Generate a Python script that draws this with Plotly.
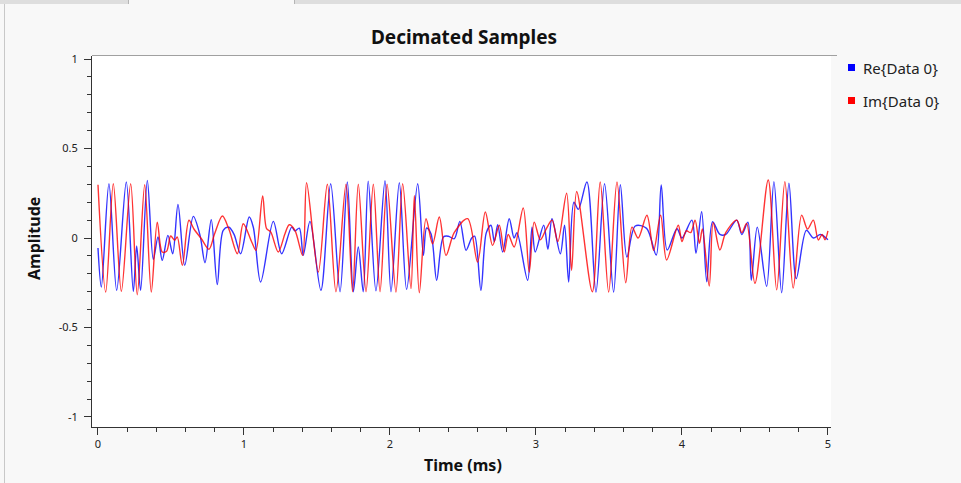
import plotly.graph_objects as go

# ---- data ----
re_t = [0, 0.023, 0.075, 0.128, 0.194, 0.242, 0.265, 0.292, 0.338, 0.379, 0.411, 0.440, 0.479, 0.512,
        0.548, 0.594, 0.653, 0.699, 0.733, 0.776, 0.817, 0.858, 0.897, 0.932, 0.977,
        1.036, 1.064, 1.114, 1.201, 1.258, 1.327, 1.349, 1.379, 1.406, 1.452, 1.527,
        1.594, 1.658, 1.708, 1.749, 1.783, 1.817, 1.851, 1.904, 1.966, 2.007, 2.064, 2.114, 2.19,
        2.229, 2.251, 2.281, 2.32, 2.366, 2.40, 2.441, 2.479, 2.521, 2.56, 2.58, 2.623, 2.66, 2.692,
        2.715, 2.738, 2.772, 2.817, 2.85, 2.87, 2.943, 2.973, 2.995, 3.053, 3.082, 3.11, 3.167, 3.196,
        3.224, 3.26, 3.29, 3.349, 3.411, 3.47, 3.532, 3.578, 3.623, 3.68, 3.758, 3.824, 3.858, 3.899,
        3.966, 4.0, 4.068, 4.096, 4.135, 4.17, 4.21, 4.26, 4.30, 4.375, 4.41, 4.452, 4.475, 4.516,
        4.58, 4.63, 4.683, 4.733, 4.783, 4.852, 4.9, 4.95, 5.0]
re_v = [-0.056, -0.274, 0.303, -0.292, 0.313, -0.298, -0.045, -0.292, 0.322, -0.12, 0.006, -0.125, 0.015, -0.088,
        0.188, -0.153, 0.121, 0.015, -0.138, 0.102, -0.26, 0.043, 0.06, 0.02, -0.088,
        0.117, 0.06, -0.246, 0.093, -0.088, 0.061, 0.04, 0.055, -0.097, 0.093, -0.292,
        0.303, -0.30, 0.313, -0.30, -0.05, -0.30, 0.318, -0.295, 0.32, -0.30, 0.309, -0.287, 0.303,
        -0.097, 0.056, 0.024, -0.236, 0.006, 0.01, -0.004, 0.093, -0.069, 0.0, 0.01, -0.292, 0.03, 0.071,
        -0.02, 0.074, -0.078, 0.108, 0.0, 0.03, -0.236, 0.061, -0.078, 0.071, -0.063, 0.108, -0.088, 0.071,
        -0.246, 0.2, 0.16, 0.313, -0.302, 0.303, -0.302, 0.298, -0.106, 0.067, 0.054, -0.095, 0.296, -0.067,
        0.052, 0.0, 0.1, -0.085, 0.147, -0.244, 0.091, 0.02, 0.02, 0.1, 0.02, 0.089, -0.236, 0.061,
        -0.27, 0.315, -0.306, 0.306, -0.227, 0.043, 0.0, 0.02, -0.01]

im_t = [0, 0.053, 0.105, 0.160, 0.224, 0.269, 0.320, 0.365, 0.406, 0.440, 0.470, 0.498, 0.525, 0.543,
        0.578, 0.623, 0.658, 0.708, 0.760, 0.799, 0.852, 0.897, 0.955, 0.995,
        1.053, 1.082, 1.128, 1.155, 1.183, 1.235, 1.281, 1.310, 1.349, 1.402, 1.429, 1.509,
        1.571, 1.630, 1.699, 1.744, 1.783, 1.836, 1.886, 1.932, 1.980, 2.041, 2.087, 2.144, 2.167, 2.201,
        2.247, 2.292, 2.338, 2.384, 2.44, 2.532, 2.6, 2.653, 2.703, 2.749, 2.783, 2.81, 2.851, 2.913,
        2.954, 2.988, 3.03, 3.07, 3.11, 3.15, 3.21, 3.244, 3.279, 3.386, 3.44, 3.498, 3.555, 3.615,
        3.658, 3.70, 3.76, 3.806, 3.854, 3.895, 3.975, 4.0, 4.03, 4.06, 4.09, 4.12, 4.14, 4.187, 4.214,
        4.26, 4.3, 4.375, 4.41, 4.443, 4.5, 4.591, 4.649, 4.705, 4.762, 4.82, 4.86, 4.9, 4.934, 4.96,
        4.98, 5.0]
im_v = [0.298, -0.302, 0.303, -0.298, 0.303, -0.317, 0.298, -0.302, 0.089, -0.078, -0.074, 0.011, -0.013, 0.006,
        -0.153, 0.099, 0.049, -0.004, -0.063, 0.024, 0.123, 0.049, -0.088, 0.08,
        -0.022, -0.069, 0.235, 0.052, 0.034, -0.078, 0.024, 0.074, 0.043, -0.097, 0.309, -0.19,
        0.30, -0.30, 0.30, -0.30, 0.30, -0.30, 0.30, -0.30, 0.30, -0.302, 0.303, -0.283, 0.238, -0.306,
        0.108, -0.032, 0.117, -0.097, 0.03, 0.108, -0.134, 0.145, -0.041, 0.071, -0.078, 0.02, -0.05, 0.168,
        -0.19, 0.089, -0.01, 0.05, 0.1, -0.02, 0.25, -0.18, 0.26, -0.30, 0.313, -0.302, 0.313, -0.25,
        0.061, 0.0, 0.127, -0.069, 0.128, -0.123, 0.071, -0.02, 0.04, 0.03, 0.1, -0.03, 0.05, -0.268, 0.085,
        -0.067, 0.03, 0.1, 0.03, 0.082, -0.253, 0.324, -0.29, 0.315, -0.28, 0.128, 0.05, 0.1, -0.011, 0.02,
        -0.01, 0.04]

x_ticks = [0, 1, 2, 3, 4, 5]
x_labels = ["0", "1", "2", "3", "4", "5"]
y_ticks = [-1, -0.5, 0, 0.5, 1]
y_labels = ["-1", "-0.5", "0", "0.5", "1"]
series_names = ["Re{Data 0}", "Im{Data 0}"]
series_colors = ["#0000ff", "#ff0000"]
line_colors = ["rgba(0,0,255,0.8)", "rgba(255,0,0,0.8)"]

W, H = 961, 483
L, R, T, B = 92, 130, 56, 56
PW, PH = W - L - R, H - T - B


def px(x):  # pixel column -> paper x
    return (x - L) / PW


def py(y):  # pixel row -> paper y
    return (H - B - y) / PH


fig = go.Figure()
for t, v, c, n in [(re_t, re_v, line_colors[0], series_names[0]), (im_t, im_v, line_colors[1], series_names[1])]:
    fig.add_trace(go.Scatter(x=t, y=v, mode="lines", name=n, showlegend=False,
                             line=dict(color=c, width=1.4, shape="spline", smoothing=0.9)))

axis_font = dict(family="Noto Sans", size=11, color="#222222")
title_font = dict(family="Noto Sans", size=16, color="#111111")

annotations = [
    dict(text="<b>Time (ms)</b>", xref="paper", yref="paper", x=px(463), y=py(465),
         xanchor="center", yanchor="middle", showarrow=False, font=title_font),
    dict(text="<b>Amplitude</b>", xref="paper", yref="paper", x=px(34), y=py(239),
         xanchor="center", yanchor="middle", showarrow=False, textangle=-90, font=title_font),
]
shapes = [
    # canvas top border
    dict(type="line", xref="paper", yref="paper", x0=px(92), x1=px(837), y0=py(55.5), y1=py(55.5),
         line=dict(color="#a0a0a0", width=1)),
    # window frame: left line and top tab strip
    dict(type="line", xref="paper", yref="paper", x0=px(4.5), x1=px(4.5), y0=py(4), y1=py(483),
         line=dict(color="#c8c8c8", width=1)),
    dict(type="rect", xref="paper", yref="paper", x0=px(0), x1=px(128), y0=py(0), y1=py(4),
         fillcolor="#dedede", line=dict(width=0)),
    dict(type="rect", xref="paper", yref="paper", x0=px(295), x1=px(961), y0=py(0), y1=py(4),
         fillcolor="#dedede", line=dict(width=0)),
    dict(type="line", xref="paper", yref="paper", x0=px(128.5), x1=px(128.5), y0=py(0), y1=py(4),
         line=dict(color="#b5b5b5", width=1)),
    dict(type="line", xref="paper", yref="paper", x0=px(294.5), x1=px(294.5), y0=py(0), y1=py(4),
         line=dict(color="#b5b5b5", width=1)),
]
# legend (drawn like the Qwt legend: small square + label)
for i, (n, c) in enumerate(zip(series_names, series_colors)):
    yc = 67.5 + 33 * i
    shapes.append(dict(type="rect", xref="paper", yref="paper", x0=px(848), x1=px(855),
                       y0=py(yc - 3.5), y1=py(yc + 3.5), fillcolor=c, line=dict(width=0)))
    annotations.append(dict(text=n, xref="paper", yref="paper", x=px(861), y=py(yc),
                            xanchor="left", yanchor="middle", showarrow=False,
                            font=dict(family="Noto Sans", size=15, color="#222222")))

fig.update_layout(
    width=W, height=H,
    margin=dict(l=L, r=R, t=T, b=B, pad=0),
    paper_bgcolor="#f8f8f8", plot_bgcolor="#ffffff",
    showlegend=False,
    title=dict(text="<b>Decimated Samples</b>", x=px(464), xref="paper", y=1 - 37 / H, yref="container",
               xanchor="center", yanchor="middle",
               font=dict(family="Noto Sans", size=19, color="#111111")),
    xaxis=dict(range=[-0.041, 5.021], tickvals=x_ticks, ticktext=x_labels, showgrid=False, zeroline=False,
               showline=True, linecolor="#333333", linewidth=1, ticks="outside", ticklen=7, tickwidth=1,
               tickcolor="#333333", tickfont=axis_font,
               minor=dict(dtick=0.2, tick0=0, ticks="outside", ticklen=4, tickcolor="#333333", showgrid=False)),
    yaxis=dict(range=[-1.056, 1.017], tickvals=y_ticks, ticktext=y_labels, showgrid=False, zeroline=False,
               showline=True, linecolor="#333333", linewidth=1, ticks="outside", ticklen=7, tickwidth=1,
               tickcolor="#333333", tickfont=axis_font, ticklabelstandoff=4,
               minor=dict(dtick=0.1, tick0=0, ticks="outside", ticklen=4, tickcolor="#333333", showgrid=False)),
    annotations=annotations,
    shapes=shapes,
)

fig.write_html("out.html", config={"displayModeBar": False},
               post_script="document.body.style.margin='0';document.body.style.overflow='hidden';")
